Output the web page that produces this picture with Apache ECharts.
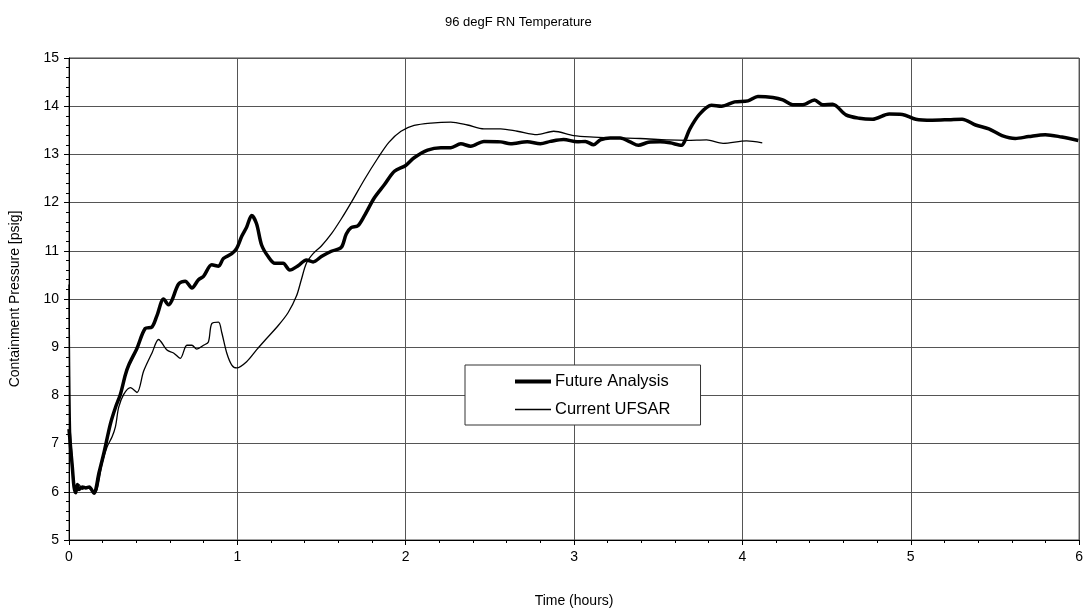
<!DOCTYPE html>
<html>
<head>
<meta charset="utf-8">
<script src="https://cdn.jsdelivr.net/npm/echarts@6/dist/echarts.min.js"></script>
<style>
    html, body { margin: 0; padding: 0; background: #fff; }
    #chart { width: 1086px; height: 613px; }
</style>
</head>
<body>
<div id="chart"></div>
<script>
    // 数据: [时间 (hours), 压力 (psig)]
    var titleText = '96 degF RN Temperature';
    var seriesNames = ['Future Analysis', 'Current UFSAR'];
    var xTicks = [0, 1, 2, 3, 4, 5, 6];
    var yTicks = [5, 6, 7, 8, 9, 10, 11, 12, 13, 14, 15];

    var futureAnalysis = [
        [0, 7.3], [0.01, 6.9], [0.02, 6.5], [0.03, 6.1], [0.04, 5.98], [0.05, 6.15], [0.06, 6.05],
        [0.08, 6.1], [0.10, 6.08], [0.12, 6.1], [0.148, 5.97], [0.178, 6.39], [0.207, 6.8],
        [0.246, 7.41], [0.276, 7.75], [0.305, 8.02], [0.335, 8.43], [0.355, 8.63], [0.404, 8.98],
        [0.453, 9.39], [0.493, 9.42], [0.522, 9.65], [0.562, 10.0], [0.591, 9.88], [0.611, 9.97],
        [0.651, 10.31], [0.69, 10.37], [0.73, 10.23], [0.769, 10.4], [0.799, 10.47], [0.848, 10.71],
        [0.888, 10.68], [0.917, 10.84], [0.967, 10.94], [0.996, 11.05], [1.026, 11.3], [1.055, 11.49],
        [1.085, 11.73], [1.114, 11.56], [1.144, 11.12], [1.183, 10.88], [1.223, 10.74], [1.272, 10.74],
        [1.311, 10.6], [1.361, 10.69], [1.41, 10.81], [1.45, 10.77], [1.499, 10.88], [1.558, 10.99],
        [1.617, 11.07], [1.647, 11.35], [1.676, 11.48], [1.716, 11.52], [1.755, 11.73], [1.814, 12.1],
        [1.873, 12.37], [1.933, 12.65], [2.0, 12.77], [2.05, 12.93], [2.13, 13.09], [2.209, 13.14],
        [2.268, 13.14], [2.327, 13.22], [2.386, 13.17], [2.465, 13.27], [2.564, 13.26], [2.623, 13.22],
        [2.722, 13.26], [2.8, 13.22], [2.86, 13.27], [2.938, 13.31], [3.018, 13.26], [3.067, 13.27],
        [3.116, 13.2], [3.156, 13.3], [3.215, 13.34], [3.274, 13.34], [3.333, 13.26], [3.382, 13.19],
        [3.441, 13.25], [3.511, 13.26], [3.57, 13.24], [3.639, 13.19], [3.659, 13.29], [3.688, 13.53],
        [3.747, 13.84], [3.816, 14.02], [3.876, 14.0], [3.954, 14.09], [4.033, 14.11], [4.092, 14.2],
        [4.181, 14.18], [4.24, 14.13], [4.299, 14.03], [4.359, 14.03], [4.428, 14.13], [4.477, 14.03],
        [4.536, 14.04], [4.615, 13.82], [4.694, 13.75], [4.773, 13.73], [4.872, 13.84], [4.95, 13.83],
        [5.03, 13.73], [5.128, 13.71], [5.227, 13.72], [5.305, 13.73], [5.385, 13.61], [5.464, 13.53],
        [5.542, 13.39], [5.621, 13.33], [5.7, 13.37], [5.799, 13.41], [5.897, 13.36], [5.995, 13.29]
    ];

    var currentUfsar = [
        [0, 10.3], [0.004, 8.6], [0.01, 7.2], [0.02, 6.6], [0.03, 6.2], [0.04, 6.05], [0.06, 6.15],
        [0.08, 6.05], [0.1, 6.1], [0.13, 6.05], [0.15, 5.98], [0.167, 6.05], [0.197, 6.59],
        [0.226, 6.93], [0.256, 7.14], [0.276, 7.35], [0.295, 7.75], [0.325, 8.02], [0.365, 8.16],
        [0.404, 8.06], [0.443, 8.5], [0.493, 8.88], [0.532, 9.16], [0.582, 8.94], [0.621, 8.88],
        [0.661, 8.77], [0.7, 9.04], [0.73, 9.04], [0.759, 8.96], [0.799, 9.04], [0.828, 9.11],
        [0.848, 9.49], [0.888, 9.52], [0.907, 9.31], [0.937, 8.88], [0.967, 8.63], [0.996, 8.57],
        [1.055, 8.7], [1.115, 8.95], [1.163, 9.14], [1.243, 9.45], [1.302, 9.72], [1.351, 10.06],
        [1.38, 10.4], [1.41, 10.74], [1.45, 10.94], [1.499, 11.1], [1.558, 11.35], [1.617, 11.66],
        [1.676, 12.0], [1.755, 12.48], [1.834, 12.92], [1.9, 13.25], [1.972, 13.48], [2.05, 13.6],
        [2.15, 13.65], [2.268, 13.67], [2.367, 13.61], [2.465, 13.53], [2.564, 13.53], [2.663, 13.48],
        [2.781, 13.41], [2.879, 13.48], [2.998, 13.39], [3.116, 13.36], [3.254, 13.34], [3.392, 13.33],
        [3.55, 13.3], [3.669, 13.29], [3.787, 13.3], [3.885, 13.23], [4.024, 13.28], [4.118, 13.24]
    ];

    var chart = echarts.init(document.getElementById('chart'));

    var textFont = 'Liberation Sans, Arial, sans-serif';

    var option = {
        backgroundColor: '#fff',
        animation: false,
        title: {
            text: titleText,
            left: 440,
            top: 11,
            textStyle: { fontFamily: textFont, fontSize: 13, fontWeight: 'normal', color: '#000' }
        },
        legend: {
            data: [
                { name: seriesNames[0], icon: 'path://M0,0 L36,0 L36,4 L0,4 Z' },
                { name: seriesNames[1], icon: 'path://M0,0 L36,0 L36,1.3 L0,1.3 Z' }
            ],
            orient: 'vertical',
            left: 465,
            top: 365,
            itemWidth: 36,
            itemHeight: 14,
            itemGap: 11,
            padding: [8, 30, 7, 50],
            backgroundColor: '#fff',
            borderColor: '#333',
            borderWidth: 1,
            itemStyle: { color: '#000' },
            textStyle: { fontFamily: textFont, fontSize: 16.5, color: '#000', padding: [0, 0, 0, -1] }
        },
        grid: {
            left: 65,
            right: 4,
            top: 58,
            bottom: 65,
            show: true,
            borderColor: '#444',
            borderWidth: 1
        },
        xAxis: {
            type: 'value',
            min: xTicks[0],
            max: xTicks[xTicks.length - 1],
            interval: 1,
            name: 'Time (hours)',
            nameLocation: 'middle',
            nameGap: 54,
            nameTextStyle: { fontFamily: textFont, fontSize: 14, color: '#000' },
            axisLine: { lineStyle: { color: '#000', width: 1 } },
            axisTick: { inside: false, length: 5, lineStyle: { color: '#000' } },
            minorTick: { show: true, splitNumber: 5, length: 3, lineStyle: { color: '#000' } },
            axisLabel: { fontFamily: textFont, fontSize: 14, color: '#000', margin: 10 },
            splitLine: { show: true, lineStyle: { color: '#555', width: 1 } }
        },
        yAxis: {
            type: 'value',
            min: yTicks[0],
            max: yTicks[yTicks.length - 1],
            interval: 1,
            name: 'Containment Pressure [psig]',
            nameLocation: 'middle',
            nameGap: 47,
            nameTextStyle: { fontFamily: textFont, fontSize: 14, color: '#000' },
            axisLine: { show: true, lineStyle: { color: '#000', width: 1 } },
            axisTick: { inside: false, length: 5, lineStyle: { color: '#000' } },
            minorTick: { show: true, splitNumber: 5, length: 3, lineStyle: { color: '#000' } },
            axisLabel: { fontFamily: textFont, fontSize: 14, color: '#000', margin: 10 },
            splitLine: { show: true, lineStyle: { color: '#555', width: 1 } }
        },
        series: [{
            name: seriesNames[0],
            type: 'line',
            data: futureAnalysis,
            symbol: 'none',
            smooth: 0.3,
            color: '#000',
            lineStyle: { color: '#000', width: 3.5 },
            z: 3
        }, {
            name: seriesNames[1],
            type: 'line',
            data: currentUfsar,
            symbol: 'none',
            smooth: 0.3,
            color: '#000',
            lineStyle: { color: '#000', width: 1.3 },
            z: 2
        }]
    };

    chart.setOption(option);
</script>
</body>
</html>
